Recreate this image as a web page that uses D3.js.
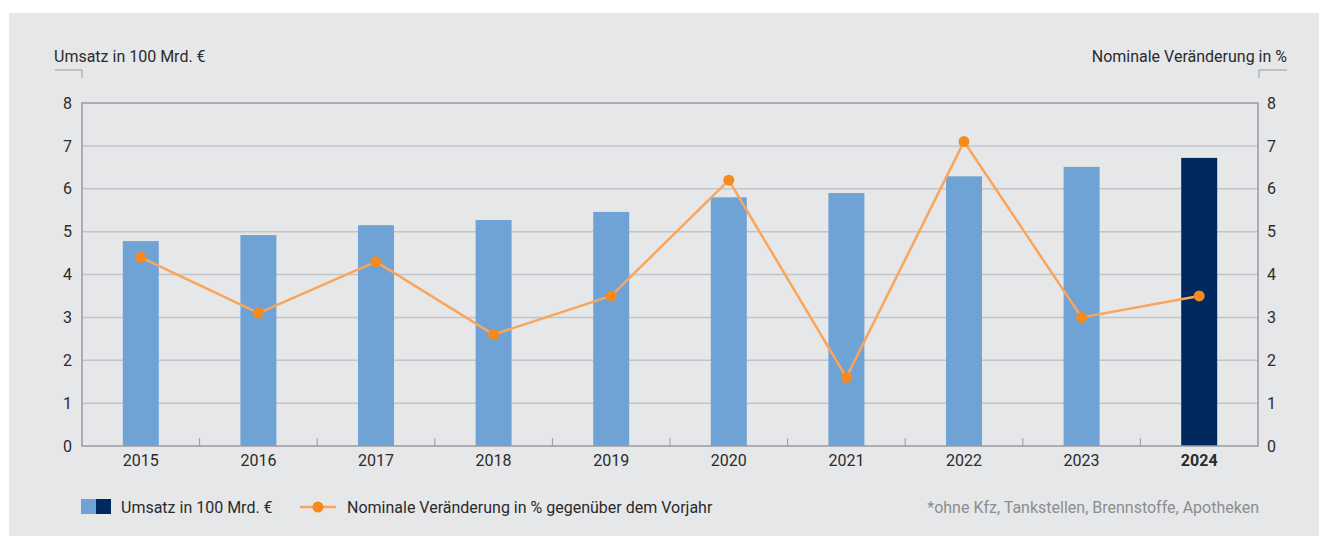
<!DOCTYPE html>
<html>
<head>
<meta charset="utf-8">
<script src="https://cdn.jsdelivr.net/npm/d3@7"></script>
<style>
  body { margin: 0; background: #fff; }
  text { font-family: Roboto, "Noto Sans", sans-serif; }
</style>
</head>
<body>
<script>
'use strict';

// chart values
const years = ["2015", "2016", "2017", "2018", "2019", "2020", "2021", "2022", "2023", "2024"];
const umsatz = [4.78, 4.92, 5.15, 5.27, 5.46, 5.80, 5.90, 6.29, 6.51, 6.72];
const veraenderung = [4.4, 3.1, 4.3, 2.6, 3.5, 6.2, 1.6, 7.1, 3.0, 3.5];
const yTicks = [0, 1, 2, 3, 4, 5, 6, 7, 8];

(function() {
  const width = 1319, height = 536;
  const pLeft = 82, pRight = 1258, pTop = 103, pBottom = 446;
  const fontSize = '16px';

  let svg = d3.select('body').append('svg')
    .attr('width', width)
    .attr('height', height);

  // grey panel
  svg.append('rect')
    .attr('x', 9).attr('y', 13)
    .attr('width', width - 9).attr('height', height - 13)
    .attr('fill', '#e6e7e9');

  let xScale = d3.scaleBand().domain(years).range([pLeft, pRight]);
  let yLeft = d3.scaleLinear().domain([0, 8]).range([pBottom, pTop]);
  let yRight = d3.scaleLinear().domain([0, 8]).range([pBottom, pTop]);

  // horizontal grid
  svg.append('g')
    .selectAll('line')
    .data(yTicks.filter(d => d > 0 && d < 8))
    .enter().append('line')
      .attr('x1', pLeft).attr('x2', pRight)
      .attr('y1', d => yLeft(d)).attr('y2', d => yLeft(d))
      .attr('stroke', '#c3c4c7')
      .attr('stroke-width', 1.5);

  // bars
  svg.append('g')
    .selectAll('rect')
    .data(years)
    .enter().append('rect')
      .attr('x', d => xScale(d) + xScale.bandwidth() * 0.347)
      .attr('width', xScale.bandwidth() * 0.306)
      .attr('y', (d, i) => yLeft(umsatz[i]))
      .attr('height', (d, i) => pBottom - yLeft(umsatz[i]))
      .attr('fill', (d, i) => i == years.length - 1 ? '#002a5f' : '#6fa3d6');

  // frame: top, left, right, bottom
  svg.append('path')
    .attr('d', `M${pLeft},${pBottom}V${pTop}H${pRight}V${pBottom}Z`)
    .attr('fill', 'none')
    .attr('stroke', '#9a9b9e')
    .attr('stroke-width', 1.5);

  // category separators on the bottom axis
  svg.append('g')
    .selectAll('line')
    .data(years.slice(1))
    .enter().append('line')
      .attr('x1', d => xScale(d)).attr('x2', d => xScale(d))
      .attr('y1', pBottom).attr('y2', pBottom - 8)
      .attr('stroke', '#9a9b9e')
      .attr('stroke-width', 1);

  // brackets above axes
  svg.append('path')
    .attr('d', `M55,70H${pLeft}V78`)
    .attr('fill', 'none').attr('stroke', '#9a9b9e').attr('stroke-width', 1);
  svg.append('path')
    .attr('d', `M1287,70H${pRight + 1}V78`)
    .attr('fill', 'none').attr('stroke', '#9a9b9e').attr('stroke-width', 1);

  // axes labels via d3 axes
  let leftAxis = svg.append('g')
    .attr('transform', `translate(${pLeft}, 0)`)
    .call(d3.axisLeft(yLeft).tickValues(yTicks).tickSize(0).tickPadding(10));
  let rightAxis = svg.append('g')
    .attr('transform', `translate(${pRight}, 0)`)
    .call(d3.axisRight(yRight).tickValues(yTicks).tickSize(0).tickPadding(9));
  let bottomAxis = svg.append('g')
    .attr('transform', `translate(0, ${pBottom})`)
    .call(d3.axisBottom(xScale).tickSize(0).tickPadding(9));

  [leftAxis, rightAxis, bottomAxis].forEach(a => {
    a.select('.domain').remove();
    a.selectAll('text')
      .style('font-family', 'Roboto, sans-serif')
      .style('font-size', fontSize)
      .attr('fill', '#2b2b2b');
  });
  bottomAxis.selectAll('text')
    .filter(d => d == '2024')
    .style('font-weight', 'bold');

  // line series
  let lineData = years.map((y, i) => ({ year: y, value: veraenderung[i] }));
  let line = d3.line()
    .x(d => xScale(d.year) + xScale.bandwidth() / 2)
    .y(d => yRight(d.value));

  svg.append('path')
    .datum(lineData)
    .attr('d', line)
    .attr('fill', 'none')
    .attr('stroke', '#f9a55c')
    .attr('stroke-width', 2.5);

  svg.append('g')
    .selectAll('circle')
    .data(lineData)
    .enter().append('circle')
      .attr('cx', d => xScale(d.year) + xScale.bandwidth() / 2)
      .attr('cy', d => yRight(d.value))
      .attr('r', 5.5)
      .attr('fill', '#f68a1f');

  // titles
  svg.append('text')
    .attr('x', 54).attr('y', 62)
    .style('font-size', fontSize).attr('fill', '#2b2b2b')
    .text('Umsatz in 100 Mrd. €');
  svg.append('text')
    .attr('x', 1287).attr('y', 62)
    .attr('text-anchor', 'end')
    .style('font-size', fontSize).attr('fill', '#2b2b2b')
    .text('Nominale Veränderung in %');

  // legend
  svg.append('rect').attr('x', 81).attr('y', 499).attr('width', 15).attr('height', 15).attr('fill', '#6fa3d6');
  svg.append('rect').attr('x', 96).attr('y', 499).attr('width', 15).attr('height', 15).attr('fill', '#002a5f');
  svg.append('text')
    .attr('x', 121).attr('y', 513)
    .style('font-size', fontSize).attr('fill', '#2b2b2b')
    .text('Umsatz in 100 Mrd. €');

  svg.append('line')
    .attr('x1', 300).attr('x2', 336).attr('y1', 507).attr('y2', 507)
    .attr('stroke', '#f9a55c').attr('stroke-width', 2.5);
  svg.append('circle').attr('cx', 318).attr('cy', 507).attr('r', 5.5).attr('fill', '#f68a1f');
  svg.append('text')
    .attr('x', 347).attr('y', 513)
    .style('font-size', fontSize).attr('fill', '#2b2b2b')
    .text('Nominale Veränderung in % gegenüber dem Vorjahr');

  svg.append('text')
    .attr('x', 1259).attr('y', 513)
    .attr('text-anchor', 'end')
    .style('font-size', fontSize).attr('fill', '#8c8d90')
    .text('*ohne Kfz, Tankstellen, Brennstoffe, Apotheken');
})();
</script>
</body>
</html>
